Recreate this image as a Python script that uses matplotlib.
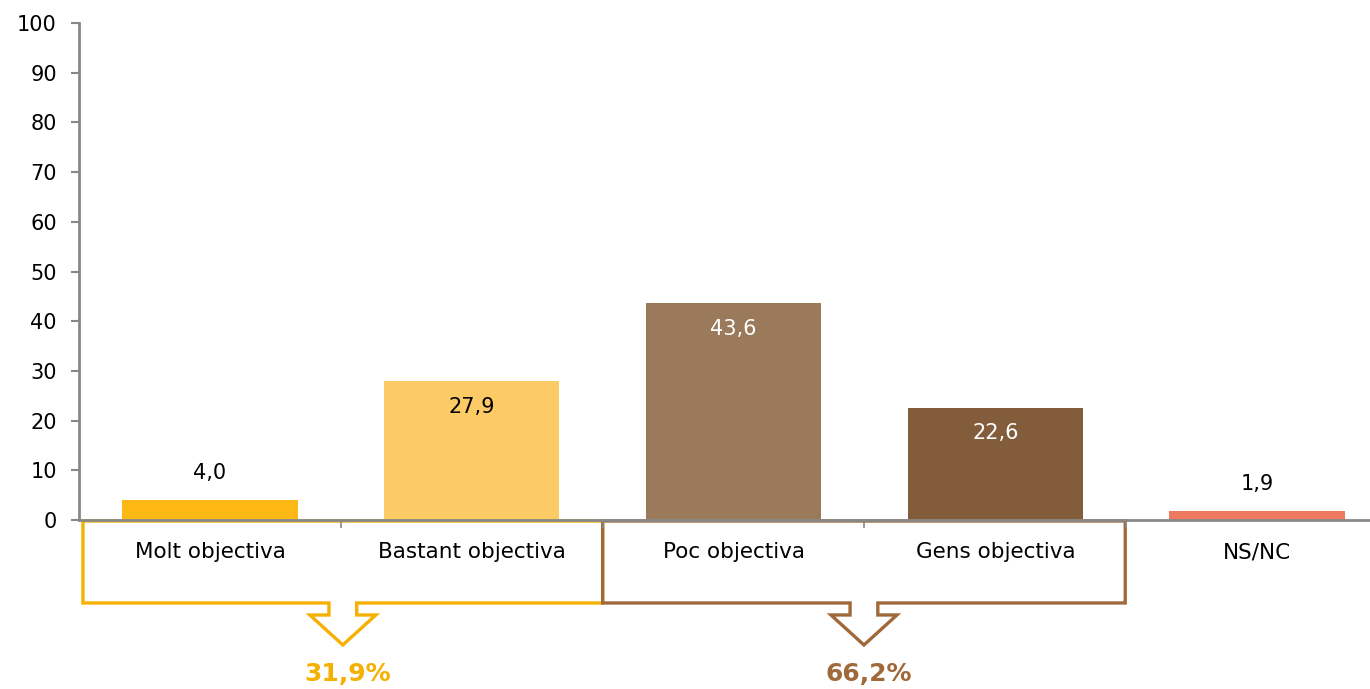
import matplotlib.pyplot as plt
from matplotlib.path import Path
from matplotlib.patches import PathPatch
from matplotlib.transforms import blended_transform_factory

# dades
categories = ["Molt objectiva", "Bastant objectiva", "Poc objectiva", "Gens objectiva", "NS/NC"]
values = [4.0, 27.9, 43.6, 22.6, 1.9]
bar_colors = ["#FDB813", "#FDCB65", "#9B7A5B", "#835C3B", "#EE7B5F"]
label_colors = ["black", "black", "white", "white", "black"]
label_inside = [False, True, True, True, False]
group_labels = ["31,9%", "66,2%"]
group_spans = [(-0.485, 1.5), (1.5, 3.496)]
group_colors = ["#F5B000", "#A0693A"]

plt.rcParams['font.family'] = ['DejaVu Sans']

fig = plt.figure(figsize=(13.7, 6.89), dpi=100)
# l'eix continua una mica més enllà de la vora dreta
ax = fig.add_axes([0.0577, 0.2453, 0.9555, 0.7213])

x = range(len(categories))
ax.bar(x, values, width=0.67, color=bar_colors)

# etiquetes de valor
for i, v in enumerate(values):
    lbl = f"{v:.1f}".replace(".", ",")
    if label_inside[i]:
        ax.annotate(lbl, (i, v), xytext=(0, -11), textcoords="offset points",
                    ha="center", va="top", fontsize=15, color=label_colors[i])
    else:
        ax.annotate(lbl, (i, v), xytext=(0, 12), textcoords="offset points",
                    ha="center", va="bottom", fontsize=15, color=label_colors[i])

ax.set_xlim(-0.5, 4.5)
ax.set_ylim(0, 100)
ax.set_yticks(range(0, 101, 10))
ax.set_xticks(list(x))
ax.set_xticklabels(categories, fontsize=15.5)
ax.set_xticks([0.5, 1.5, 2.5, 3.5], minor=True)
ax.tick_params(axis="x", which="major", length=0, pad=16)
ax.tick_params(axis="x", which="minor", length=6, width=1.2, color="#888888", direction="out")
ax.tick_params(axis="y", labelsize=15, length=6, width=1.5, color="#888888", pad=10)

for s in ["top", "right"]:
    ax.spines[s].set_visible(False)
for s in ["left", "bottom"]:
    ax.spines[s].set_color("#888888")
    ax.spines[s].set_linewidth(2)

# caixes amb fletxa
trans = blended_transform_factory(ax.transData, ax.transAxes)
h = 497.0  # alçada de l'eix en px
def yy(px):
    return -px / h

for (x0, x1), col, txt in zip(group_spans, group_colors, group_labels):
    xc = (x0 + x1) / 2
    sw, hw = 0.053, 0.126
    verts = [(x0, yy(1)), (x1, yy(1)), (x1, yy(83)), (xc + sw, yy(83)),
             (xc + sw, yy(95)), (xc + hw, yy(95)), (xc, yy(125)),
             (xc - hw, yy(95)), (xc - sw, yy(95)), (xc - sw, yy(83)),
             (x0, yy(83)), (x0, yy(1))]
    codes = [Path.MOVETO] + [Path.LINETO] * (len(verts) - 2) + [Path.CLOSEPOLY]
    patch = PathPatch(Path(verts, codes), facecolor="none", edgecolor=col,
                      linewidth=2.4, transform=trans, clip_on=False, joinstyle="miter")
    ax.add_patch(patch)
    ax.text(xc + 0.02, yy(154), txt, transform=trans, ha="center", va="center",
            fontsize=18, fontweight="bold", color=col)

fig.savefig("out.png", dpi=100)
